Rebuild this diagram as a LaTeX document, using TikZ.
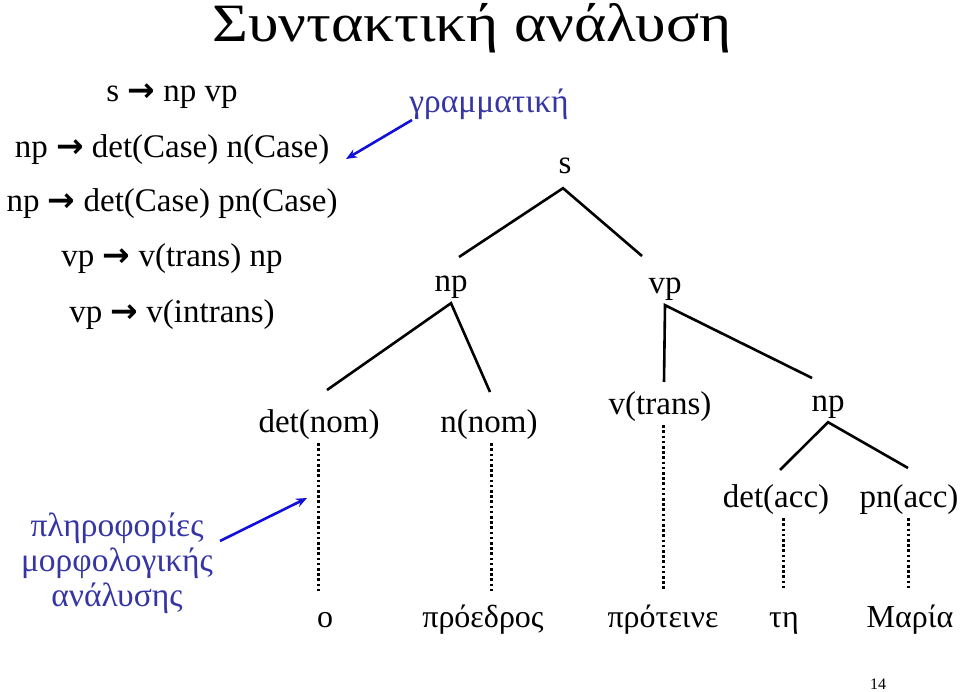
\documentclass[tikz,border=0pt]{standalone}
\usepackage{fontspec}
\setmainfont{Liberation Serif}
\newfontfamily\titlefont{Liberation Serif}[FakeStretch=1.14]
\newfontfamily\arrowfont{DejaVu Sans}
\usetikzlibrary{arrows.meta}
\definecolor{blue1}{HTML}{3535A5}
\definecolor{blue2}{HTML}{1010D8}
\newcommand{\rulearrow}{{\arrowfont\bfseries →}}

\begin{document}
\begin{tikzpicture}[x=1pt, y=-1pt, >=Stealth,
  every node/.style={font=\fontsize{33}{38}\selectfont, inner sep=0pt},
  lbl/.style={anchor=base, text height=23pt, text depth=11pt},
  word/.style={anchor=base, text height=23pt, text depth=8pt, font=\fontsize{32}{38}\selectfont},
  branch/.style={line width=2.6pt, black},
  leafline/.style={line width=3pt, dash pattern=on 2.6pt off 2.6pt, shorten >=13pt},
  note/.style={text=blue1, font=\fontsize{33.5}{35}\selectfont, align=center},
  pointer/.style={-{Stealth[length=11pt, width=9pt]}, blue2, line width=2.6pt}]

  \useasboundingbox (0,0) rectangle (960,692);

  % title
  \node[anchor=base] (title) at (472,42) {\titlefont\fontsize{54}{60}\selectfont Συντακτική ανάλυση};

  % grammar rules
  \node[anchor=base] (r1) at (172,102) {s \rulearrow\ np vp};
  \node[anchor=base] (r2) at (172,158) {np \rulearrow\ det(Case) n(Case)};
  \node[anchor=base] (r3) at (172,212) {np \rulearrow\ det(Case) pn(Case)};
  \node[anchor=base] (r4) at (172,267) {vp \rulearrow\ v(trans) np};
  \node[anchor=base] (r5) at (172,322) {vp \rulearrow\ v(intrans)};

  % notes
  \node[note, anchor=base] (gram) at (489,113) {γραμματική};
  \node[note] (info) at (117,563) {πληροφορίες\\μορφολογικής\\ανάλυσης};

  \coordinate (gram-tail) at (412,120);
  \coordinate (gram-tip) at (346,159);
  \coordinate (info-tail) at (220,541);
  \coordinate (info-tip) at (307,498);
  \draw[pointer] (gram-tail) -- (gram-tip);
  \draw[pointer] (info-tail) -- (info-tip);

  % tree
  \node[lbl] (s) at (565,174) {s};
  \node[lbl] (np) at (451,292) {np};
  \node[lbl] (vp) at (665,294) {vp};
  \node[lbl] (detnom) at (319,432) {det(nom)};
  \node[lbl] (nnom) at (489,432) {n(nom)};
  \node[lbl] (vtrans) at (660,414) {v(trans)};
  \node[lbl] (npacc) at (828,411) {np};
  \node[lbl] (detacc) at (776,507) {det(acc)};
  \node[lbl] (pnacc) at (909,507) {pn(acc)};

  \coordinate (s-l) at (459,257);
  \coordinate (s-r) at (642,256);
  \coordinate (np-l) at (327,390);
  \coordinate (np-r) at (490,392);
  \coordinate (vp-l) at (664,382);
  \coordinate (vp-r) at (812,378);
  \coordinate (npacc-l) at (780,470);
  \coordinate (npacc-r) at (908,468);

  \draw[branch] (s-l) -- ([shift={(-2,3)}]s.south) -- (s-r);
  \draw[branch] (np-l) -- (np.south) -- (np-r);
  \draw[branch] (vp-l) -- (vp.south) -- (vp-r);
  \draw[branch] (npacc-l) -- (npacc.south) -- (npacc-r);

  % words
  \node[word] (o) at (325,627) {ο};
  \node[word] (proedros) at (483,627) {πρόεδρος};
  \node[word] (proteine) at (663,627) {πρότεινε};
  \node[word] (ti) at (784,627) {τη};
  \node[word] (maria) at (910,627) {Μαρία};

  \draw[leafline] ([xshift=-1]detnom.south) -- ([xshift=-1]detnom.south |- o.north);
  \draw[leafline] ([xshift=2]nnom.south) -- ([xshift=2]nnom.south |- proedros.north);
  \draw[leafline] ([xshift=3]vtrans.south) -- ([xshift=3]vtrans.south |- proteine.north);
  \draw[leafline] ([xshift=7]detacc.south) -- ([xshift=7]detacc.south |- ti.north);
  \draw[leafline] ([xshift=-1]pnacc.south) -- ([xshift=-1]pnacc.south |- maria.north);

  % page number
  \node[anchor=base, font=\fontsize{16}{18}\selectfont] (page) at (878,689) {14};

\end{tikzpicture}
\end{document}
